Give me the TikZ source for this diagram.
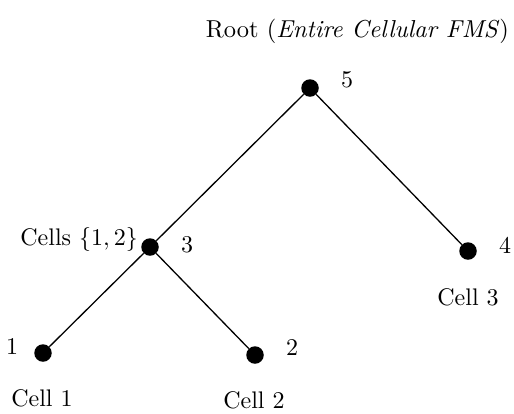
\documentclass[tikz,border=0pt]{standalone}
\begin{document}
\begin{tikzpicture}[x=1pt,y=-1pt,
  dot/.style={circle,fill=black,inner sep=0pt,minimum size=17.5pt},
  lbl/.style={inner sep=0pt},
  edge/.style={line width=1.3pt}]
\useasboundingbox (0,0) rectangle (514,413);
\node[dot] (n5) at (310,88) {};
\node[dot] (n3) at (150,247) {};
\node[dot] (n4) at (468,251) {};
\node[dot] (n1) at (43,353) {};
\node[dot] (n2) at (255,355) {};
\draw[edge] (n5) -- (n3);
\draw[edge] (n5) -- (n4);
\draw[edge] (n3) -- (n1);
\draw[edge] (n3) -- (n2);
\node[lbl] (t5) at (347,80) {\scalebox{2.4}{5}};
\node[lbl] (t3) at (187,245) {\scalebox{2.4}{3}};
\node[lbl] (t4) at (505,245) {\scalebox{2.4}{4}};
\node[lbl] (t1) at (12,347) {\scalebox{2.4}{1}};
\node[lbl] (t2) at (292,348) {\scalebox{2.4}{2}};
\node[lbl,anchor=east] (c12) at (138,239) {\scalebox{2.4}{Cells $\{1,2\}$}};
\node[lbl] (c3) at (468,297) {\scalebox{2.4}{Cell 3}};
\node[lbl] (c1) at (42,398) {\scalebox{2.4}{Cell 1}};
\node[lbl] (c2) at (254,400) {\scalebox{2.4}{Cell 2}};
\node[lbl,anchor=east] (root) at (509,31) {\scalebox{2.45}{Root (\textit{Entire Cellular FMS})}};
\end{tikzpicture}
\end{document}
